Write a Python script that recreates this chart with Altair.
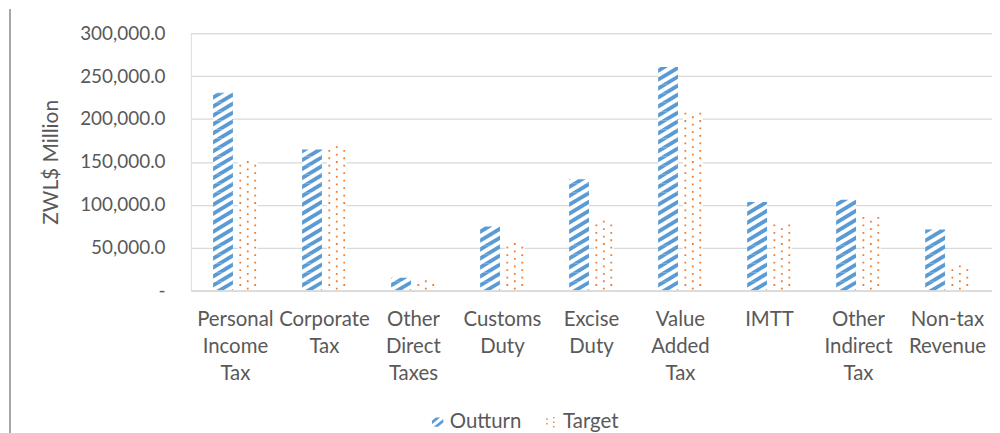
import math
import json
import altair as alt
import pandas as pd

# ---- data ----
categories = ["Personal Income Tax", "Corporate Tax", "Other Direct Taxes", "Customs Duty",
              "Excise Duty", "Value Added Tax", "IMTT", "Other Indirect Tax", "Non-tax Revenue"]
outturn = [230500, 164500, 15000, 74500, 129500, 260500, 103000, 105800, 71000]
target = [155000, 170000, 13500, 57500, 83500, 209500, 79500, 87500, 29500]
series = ["Outturn", "Target"]
y_ticks = [0, 50000, 100000, 150000, 200000, 250000, 300000]

rows = []
for c, o, t in zip(categories, outturn, target):
    rows.append({"category": c, "series": "Outturn", "value": o})
    rows.append({"category": c, "series": "Target", "value": t})
df = pd.DataFrame(rows)

# ---- styling ----
W, H = 806, 259
YMAX = 300000
UPX = YMAX / H  # data units per pixel
BLUE = "#5B9BD5"
ORANGE = "#ED7D31"
TXT = "#595959"
GRID = "#D9D9D9"
FONT = "Lato"
FS_Y = 19
FS_X = 20.5
TILE_SIZE = 400          # symbol area -> unit square [-1,1] maps to 20 px
SC = math.sqrt(TILE_SIZE) / 2  # px per shape unit

S_PX = 9.0    # stripe period (px)
D_PX = 7.5    # dot period (px)
S_STEP = S_PX * UPX
D_STEP = D_PX * UPX


# ---- pattern geometry helpers (fill patterns, not data) ----
def clip(poly, a, b, c):
    out = []
    n = len(poly)
    for i in range(n):
        p, q = poly[i], poly[(i + 1) % n]
        fp = a * p[0] + b * p[1] + c
        fq = a * q[0] + b * q[1] + c
        if fp >= 0:
            out.append(p)
        if (fp >= 0) != (fq >= 0):
            t = fp / (fp - fq)
            out.append((p[0] + t * (q[0] - p[0]), p[1] + t * (q[1] - p[1])))
    return out


def poly_path(polys):
    parts = []
    for poly in polys:
        if len(poly) < 3:
            continue
        parts.append("M" + "L".join(f"{x:.4f},{y:.4f}" for x, y in poly) + "Z")
    return "".join(parts) if parts else "M0,0Z"


def stripes(x0, x1, y0, y1, period, thick, slope, phase=0.0):
    rect = [(x0, y0), (x1, y0), (x1, y1), (x0, y1)]
    umin = min(y0, y1) - abs(slope) * max(abs(x0), abs(x1)) - period
    umax = max(y0, y1) + abs(slope) * max(abs(x0), abs(x1)) + period
    polys = []
    k = math.floor((umin - phase) / period)
    while k * period + phase <= umax:
        lo = k * period + phase
        hi = lo + thick
        p = clip(rect, slope, 1, -lo)      # y + slope*x >= lo
        p = clip(p, -slope, -1, hi)        # y + slope*x <= hi
        if len(p) >= 3:
            polys.append(p)
        k += 1
    return polys


def dot_sq(cx, cy, h):
    return [(cx - h, cy - h), (cx + h, cy - h), (cx + h, cy + h), (cx - h, cy + h)]


# stripe tiles: 20 px wide, S_PX tall, anchored at the tile bottom (index = 0.5 px steps)
sp = S_PX / SC
s_paths = []
for i in range(0, int(S_PX * 2) + 1):
    h = i * 0.5 / SC
    s_paths.append("M0,0Z" if i == 0 else
                   poly_path(stripes(-1, 1, sp / 2 - h, sp / 2, sp, sp / 2, 0.6)))

# dot tiles: two staggered rows per period
dp = D_PX / SC
dh = 0.09
dot_list = [(-0.75, -dp / 4), (0.75, -dp / 4), (0.0, dp / 4)]
d_paths = []
for i in range(0, int(D_PX * 2) + 1):
    h = i * 0.5 / SC
    sel = [dot_sq(x, y, dh) for x, y in dot_list if y - dh >= dp / 2 - h - 1e-9]
    d_paths.append(poly_path(sel))

# legend icons
icon_stripe = poly_path(stripes(-1, 1, -0.8, 0.8, 1.3, 0.6, 0.8, phase=0.25))
icon_dots = poly_path([dot_sq(x, y, 0.13) for x, y in
                       [(-0.7, -0.5), (-0.7, 0.3), (0.5, -0.8), (0.5, 0.0), (0.5, 0.8)]])

# ---- encodings ----
x_enc = alt.X("category:N", sort=categories, title=None,
              scale=alt.Scale(paddingInner=0.5, paddingOuter=0.25),
              axis=alt.Axis(labelExpr="split(datum.label, ' ')", labelAngle=0,
                            labelFont=FONT, labelFontSize=FS_X, labelColor=TXT,
                            labelLineHeight=27, labelBaseline="top", labelPadding=19,
                            labelOverlap=False, labelLimit=200,
                            ticks=False, tickSize=0, domainColor=GRID, domainWidth=1.5,
                            grid=False, zindex=1))
xo_enc = alt.XOffset("series:N", sort=series,
                     scale=alt.Scale(paddingInner=0.2, paddingOuter=0))
y_scale = alt.Scale(domain=[0, YMAX], nice=False)
y_axis = alt.Axis(values=y_ticks,
                  labelExpr="datum.value == 0 ? '-\u00a0\u00a0\u00a0' : format(datum.value, ',.1f')",
                  labelFont=FONT, labelFontSize=FS_Y, labelColor=TXT, labelPadding=26,
                  domain=False, ticks=False, tickSize=0, gridColor=GRID, gridWidth=1.2,
                  title="ZWL$ Million", titleFont=FONT, titleFontSize=21,
                  titleFontWeight="normal", titleColor=TXT, titleX=-140, titleY=H / 2,
                  titleAlign="center", titleBaseline="middle", titleAngle=270)

base = alt.Chart(df)

bars = base.mark_bar(color="white").encode(
    x=x_enc, xOffset=xo_enc,
    y=alt.Y("value:Q", scale=y_scale, axis=y_axis),
)


def tile_layer(name, step, paths, color):
    arr = "[" + ",".join("'" + p + "'" for p in paths) + "]"
    return base.transform_filter(f"datum.series == '{name}'").transform_calculate(
        n=f"floor(datum.value / {step})"
    ).transform_calculate(
        k="sequence(0, datum.n + 1)"
    ).transform_flatten(["k"]).transform_calculate(
        pos=f"(datum.k + 0.5) * {step}",
        idx=(f"datum.k < datum.n ? {len(paths) - 1} : "
             f"min({len(paths) - 1}, round((datum.value - datum.n * {step}) / {UPX} * 2))"),
    ).transform_calculate(
        tile=f"{arr}[datum.idx]"
    ).mark_point(filled=True, size=TILE_SIZE, opacity=1, clip=True, color=color).encode(
        x=x_enc, xOffset=xo_enc,
        y=alt.Y("pos:Q", scale=y_scale),
        shape=alt.Shape("tile:N", scale=None),
    )


stripe_tiles = tile_layer("Outturn", S_STEP, s_paths, BLUE)
dot_tiles = tile_layer("Target", D_STEP, d_paths, ORANGE)

legend = alt.Legend(title=None, orient="none", legendX=238, legendY=381, direction="horizontal",
                    labelFont=FONT, labelFontSize=FS_X, labelColor=TXT, symbolSize=130,
                    symbolStrokeWidth=0, symbolOpacity=1, labelOffset=2, columnPadding=19,
                    padding=0)

legend_layer = base.mark_point(filled=True, opacity=1, clip=True, strokeWidth=0).encode(
    x=alt.value(-400), y=alt.value(-400),
    color=alt.Color("series:N", sort=series,
                    scale=alt.Scale(domain=series, range=[BLUE, ORANGE]), legend=legend),
    shape=alt.Shape("series:N", sort=series,
                    scale=alt.Scale(domain=series, range=[icon_stripe, icon_dots]), legend=legend),
)

frame = alt.Chart(df).mark_rule(color="#A6A6A6", strokeWidth=1).encode(
    x=alt.value(-182), y=alt.value(-24), y2=alt.value(H + 150)
)

chart = alt.layer(bars, stripe_tiles, dot_tiles, legend_layer, frame).properties(
    width=W, height=H,
    autosize=alt.AutoSizeParams(type="none"),
    padding={"left": 184, "top": 24, "right": 0, "bottom": 142},
).configure_view(stroke=None).configure(background="white")

chart.save("out.html", embed_options={"renderer": "svg", "actions": False})
